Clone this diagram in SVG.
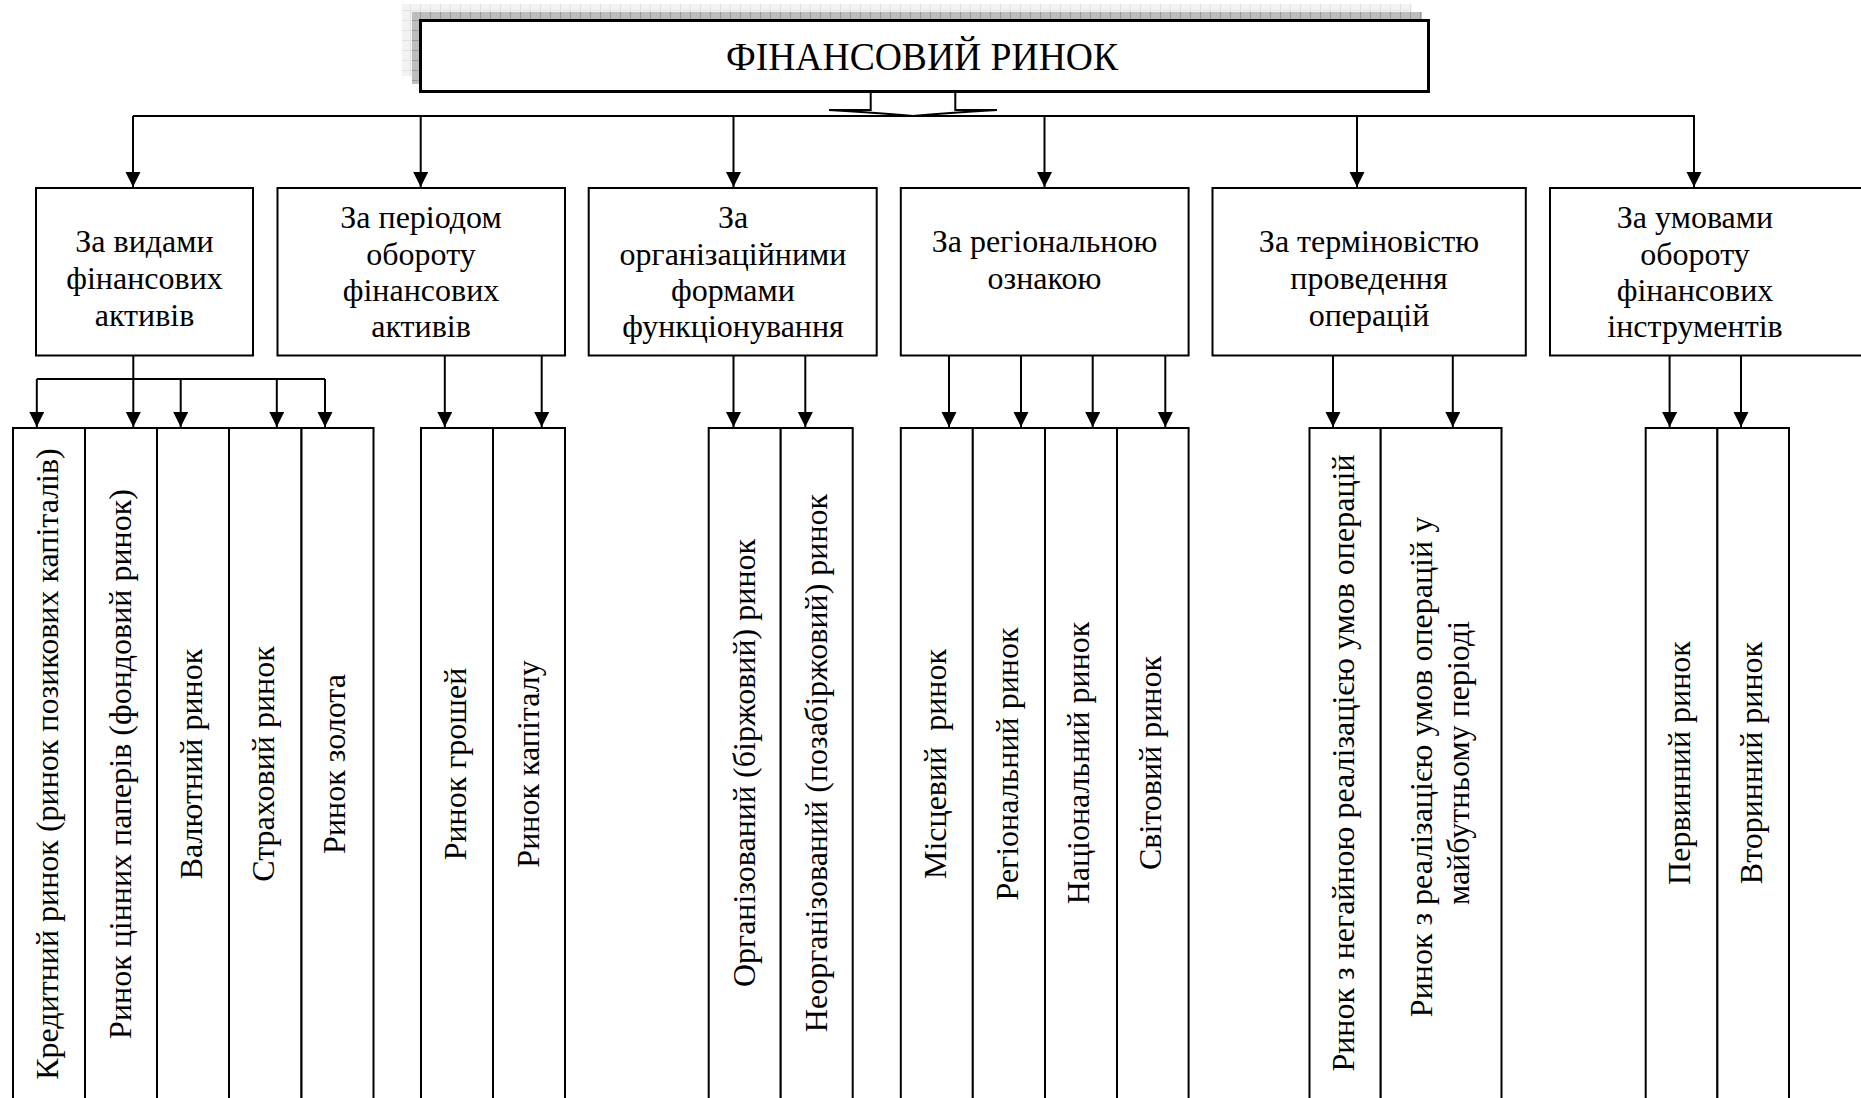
<svg xmlns="http://www.w3.org/2000/svg" width="1861" height="1098" viewBox="0 0 1861 1098">
<style>
.box{fill:#fff;stroke:#000;stroke-width:2}
.ln{fill:none;stroke:#000;stroke-width:2}
.t{font-family:'Liberation Serif','DejaVu Serif',serif;font-size:32px;fill:#000;text-anchor:middle}
.title{font-size:40px}
</style>
<defs>
<marker id="ah" markerUnits="userSpaceOnUse" markerWidth="16" markerHeight="16" refX="15" refY="7.5" orient="auto">
<path d="M0,0 L15,7.5 L0,15 z" fill="#000"/>
</marker>
<pattern id="gl" width="10" height="10" patternUnits="userSpaceOnUse">
<rect width="10" height="10" fill="#f3f3f3"/>
<path d="M0,0.5 H10 M0.5,0 V10" stroke="#e2e2e2" stroke-width="1"/>
</pattern>
<pattern id="gd" width="10" height="10" patternUnits="userSpaceOnUse">
<rect width="10" height="10" fill="#bdbdbd"/>
<path d="M0,0.5 H10 M0.5,0 V10" stroke="#9a9a9a" stroke-width="1"/>
</pattern>
</defs>
<rect width="1861" height="1098" fill="#fff"/>

<g id="root">
<rect x="402" y="4" width="1010" height="72" fill="url(#gl)"/>
<rect x="412" y="12" width="1010" height="72" fill="url(#gd)"/>
<rect x="420.5" y="20.5" width="1008" height="71" fill="#fff" stroke="#000" stroke-width="3"/>
<text class="t title" font-family="Liberation Serif, serif" x="922" y="70" textLength="392" lengthAdjust="spacingAndGlyphs">ФІНАНСОВИЙ РИНОК</text>
</g>

<g id="connectors">
<path class="ln" d="M870.7,92 V110 H829 Q880,113 913,116 Q946,113 997,110 H955.3 V92" fill="#fff"/>
<path class="ln" d="M133,116 H1695"/>
<path class="ln" d="M133,116 V187" marker-end="url(#ah)"/>
<path class="ln" d="M420.7,116 V187" marker-end="url(#ah)"/>
<path class="ln" d="M733.5,116 V187" marker-end="url(#ah)"/>
<path class="ln" d="M1044.5,116 V187" marker-end="url(#ah)"/>
<path class="ln" d="M1357,116 V187" marker-end="url(#ah)"/>
<path class="ln" d="M1694,116 V187" marker-end="url(#ah)"/>
<path class="ln" d="M36.8,379 H325"/>
<path class="ln" d="M133.3,356 V427" marker-end="url(#ah)"/>
<path class="ln" d="M36.8,379 V427" marker-end="url(#ah)"/>
<path class="ln" d="M180.7,379 V427" marker-end="url(#ah)"/>
<path class="ln" d="M276.8,379 V427" marker-end="url(#ah)"/>
<path class="ln" d="M325,379 V427" marker-end="url(#ah)"/>
<path class="ln" d="M444.8,356 V427" marker-end="url(#ah)"/>
<path class="ln" d="M541.7,356 V427" marker-end="url(#ah)"/>
<path class="ln" d="M733.5,356 V427" marker-end="url(#ah)"/>
<path class="ln" d="M805.3,356 V427" marker-end="url(#ah)"/>
<path class="ln" d="M949,356 V427" marker-end="url(#ah)"/>
<path class="ln" d="M1021,356 V427" marker-end="url(#ah)"/>
<path class="ln" d="M1092.7,356 V427" marker-end="url(#ah)"/>
<path class="ln" d="M1165.3,356 V427" marker-end="url(#ah)"/>
<path class="ln" d="M1333,356 V427" marker-end="url(#ah)"/>
<path class="ln" d="M1452.8,356 V427" marker-end="url(#ah)"/>
<path class="ln" d="M1669.6,356 V427" marker-end="url(#ah)"/>
<path class="ln" d="M1741,356 V427" marker-end="url(#ah)"/>
</g>

<g id="cat1">
<rect class="box" x="36" y="188" width="217" height="167.5"/>
<text class="t" x="144.5" y="252">За видами</text>
<text class="t" x="144.5" y="289">фінансових</text>
<text class="t" x="144.5" y="326">активів</text>
</g>
<g id="cat2">
<rect class="box" x="277.5" y="188" width="287.5" height="167.5"/>
<text class="t" x="421" y="228">За періодом</text>
<text class="t" x="421" y="265">обороту</text>
<text class="t" x="421" y="301">фінансових</text>
<text class="t" x="421" y="337">активів</text>
</g>
<g id="cat3">
<rect class="box" x="588.7" y="188" width="288" height="167.5"/>
<text class="t" x="733" y="228">За</text>
<text class="t" x="733" y="265">організаційними</text>
<text class="t" x="733" y="301">формами</text>
<text class="t" x="733" y="337">функціонування</text>
</g>
<g id="cat4">
<rect class="box" x="900.8" y="188" width="287.8" height="167.5"/>
<text class="t" x="1044.5" y="252">За регіональною</text>
<text class="t" x="1044.5" y="289">ознакою</text>
</g>
<g id="cat5">
<rect class="box" x="1212.5" y="188" width="313.3" height="167.5"/>
<text class="t" x="1369" y="252">За терміновістю</text>
<text class="t" x="1369" y="289">проведення</text>
<text class="t" x="1369" y="326">операцій</text>
</g>
<g id="cat6">
<rect class="box" x="1550" y="188" width="330" height="167.5"/>
<text class="t" x="1695" y="228">За умовами</text>
<text class="t" x="1695" y="265">обороту</text>
<text class="t" x="1695" y="301">фінансових</text>
<text class="t" x="1695" y="337">інструментів</text>
</g>

<g id="leaf1"><rect class="box" x="13" y="428" width="72" height="690"/><text class="t" transform="translate(57.7,764) rotate(-90)">Кредитний ринок (ринок позикових капіталів)</text></g>
<g id="leaf2"><rect class="box" x="85" y="428" width="72" height="690"/><text class="t" transform="translate(130.6,764) rotate(-90)">Ринок цінних паперів (фондовий ринок)</text></g>
<g id="leaf3"><rect class="box" x="157" y="428" width="72" height="690"/><text class="t" transform="translate(202,764) rotate(-90)">Валютний ринок</text></g>
<g id="leaf4"><rect class="box" x="229" y="428" width="72.5" height="690"/><text class="t" transform="translate(274,764) rotate(-90)">Страховий ринок</text></g>
<g id="leaf5"><rect class="box" x="301.5" y="428" width="72" height="690"/><text class="t" transform="translate(344.5,764) rotate(-90)">Ринок золота</text></g>

<g id="leaf6"><rect class="box" x="421" y="428" width="72" height="690"/><text class="t" transform="translate(466,764) rotate(-90)">Ринок грошей</text></g>
<g id="leaf7"><rect class="box" x="493" y="428" width="72" height="690"/><text class="t" transform="translate(538.7,764) rotate(-90)">Ринок капіталу</text></g>

<g id="leaf8"><rect class="box" x="708.7" y="428" width="72" height="690"/><text class="t" transform="translate(755,763) rotate(-90)">Організований (біржовий) ринок</text></g>
<g id="leaf9"><rect class="box" x="780.7" y="428" width="72" height="690"/><text class="t" transform="translate(826.6,763) rotate(-90)">Неорганізований (позабіржовий) ринок</text></g>

<g id="leaf10"><rect class="box" x="900.8" y="428" width="72" height="690"/><text class="t" transform="translate(946,764) rotate(-90)" xml:space="preserve">Місцевий  ринок</text></g>
<g id="leaf11"><rect class="box" x="972.8" y="428" width="72.2" height="690"/><text class="t" transform="translate(1017.6,764) rotate(-90)">Регіональний ринок</text></g>
<g id="leaf12"><rect class="box" x="1045" y="428" width="72" height="690"/><text class="t" transform="translate(1089,763) rotate(-90)">Національний ринок</text></g>
<g id="leaf13"><rect class="box" x="1117" y="428" width="71.6" height="690"/><text class="t" transform="translate(1160.5,763) rotate(-90)">Світовий ринок</text></g>

<g id="leaf14"><rect class="box" x="1309.5" y="428" width="71.2" height="690"/><text class="t" transform="translate(1354,763) rotate(-90)">Ринок з негайною реалізацією умов операцій</text></g>
<g id="leaf15"><rect class="box" x="1380.7" y="428" width="120.8" height="690"/>
<text class="t" transform="translate(1432.3,767) rotate(-90)">Ринок з реалізацією умов операцій у</text>
<text class="t" transform="translate(1469,763) rotate(-90)">майбутньому періоді</text></g>

<g id="leaf16"><rect class="box" x="1645.7" y="428" width="71.7" height="690"/><text class="t" transform="translate(1690,763) rotate(-90)">Первинний ринок</text></g>
<g id="leaf17"><rect class="box" x="1717.4" y="428" width="71.6" height="690"/><text class="t" transform="translate(1762,763) rotate(-90)">Вторинний ринок</text></g>
</svg>
